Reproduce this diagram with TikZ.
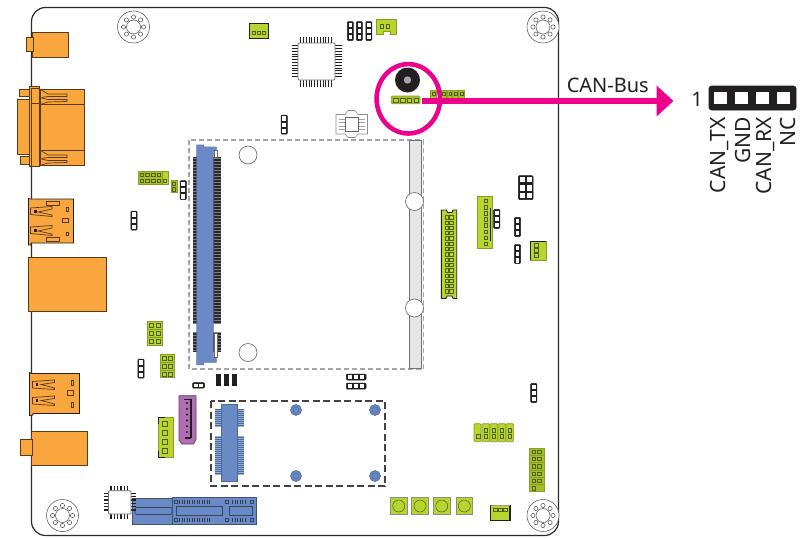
\documentclass[tikz,border=0pt]{standalone}
\usepackage{fontspec}
\setmainfont{Noto Sans}
\usetikzlibrary{arrows.meta}

\definecolor{boardline}{HTML}{2B2B2B}
\definecolor{ioorange}{HTML}{F9A63F}
\definecolor{slotblue}{HTML}{6A8AC6}
\definecolor{pinblue}{HTML}{4A6A9C}
\definecolor{hdrlime}{HTML}{B6D52E}
\definecolor{padolive}{HTML}{A6BE2C}
\definecolor{blockdark}{HTML}{231F20}
\definecolor{markpink}{HTML}{EC008C}
\definecolor{satapurple}{HTML}{B06FB2}
\definecolor{railgray}{HTML}{E4E5E6}

\begin{document}
\begin{tikzpicture}[
			x = 1pt,
			y = -1pt,
			> = stealth,
			semithick]
			\tikzstyle{every node}=[inner sep = 0pt, text = blockdark]
			\tikzstyle{orangepart}=[draw = black!65!ioorange, line width = 0.8pt, fill = ioorange]
			\tikzstyle{orangeline}=[draw = black!65!ioorange, line width = 0.7pt]
			\tikzstyle{limepart}=[draw = black!25!hdrlime, line width = 0.7pt, fill = hdrlime]
			\tikzstyle{limeedge}=[draw = blockdark, line width = 0.9pt, fill = hdrlime]
			\tikzstyle{padbox}=[draw = black!55!hdrlime, line width = 0.6pt]
			\tikzstyle{blockstrip}=[draw = blockdark, fill = blockdark, line width = 0.5pt, rounded corners = 1pt]
			\tikzstyle{holering}=[draw = black!70, line width = 0.5pt, fill = white]
			\tikzstyle{chip}=[draw = black!55, line width = 0.8pt, fill = white, rounded corners = 1pt]
			\tikzstyle{standoff}=[draw = pinblue, line width = 0.6pt, fill = slotblue]

			\useasboundingbox (0,0) rectangle (800,538);

			% board
			\draw[boardline, line width = 1.2pt, rounded corners = 14pt, fill = white]
				(31.5,7.5) rectangle (558.5,535.5);

			% mounting holes
			\foreach \cx/\cy in {133.5/27, 543/27, 62.5/515.5, 543/515.5} {
				\draw[holering] (\cx,\cy) circle (16);
				\draw[holering] (\cx,\cy) circle (7);
				\foreach \a in {0,45,...,315}
					\draw[holering] ({\cx+10*cos(\a)},{\cy+10*sin(\a)}) circle (2.1);
			}

			% rear io
			\draw[orangepart] (32.5,32) rectangle (68,57);
			\draw[orangepart] (26,37.5) rectangle (33.5,51.5);

			\draw[orangepart] (19.5,89) rectangle (29,96.5);
			\draw[orangepart] (20.5,156) rectangle (29,164);
			\draw[orangepart] (17.5,99) rectangle (29,154);
			\draw[orangepart] (40,89) rectangle (84,165.5);
			\draw[orangeline] (40,104.5) -- (84,104.5) (40,150) -- (84,150);
			\draw[orangepart] (29.5,86.5) rectangle (39.5,166.5);
			\draw[orangeline] (31.5,88) rectangle (39.5,103.5);
			\draw[orangeline] (31.5,103.5) -- (31.5,166);
			\foreach \sy in {89,150} {
				\draw[orangeline] (41.5,\sy+1) -- (48,\sy+5) -- (67,\sy+5) -- (67,\sy+7.5) -- (48,\sy+7.5) -- (41.5,\sy+8.5);
				\draw[orangeline] (41.5,\sy+9) -- (48,\sy+10.5) -- (67,\sy+10.5) -- (67,\sy+12.5) -- (48,\sy+13) -- (41.5,\sy+15);
			}

			\draw[orangepart, draw = blockdark] (28.5,198.5) -- (30,199) -- (73.5,199) -- (73.5,243) -- (31,243) -- (31,245) -- (28.5,245) -- cycle;
			\foreach \sy in {208,227} {
				\draw[orangeline] (30.5,\sy) -- (52,\sy-1.5) -- (52,\sy+1) -- (38,\sy+4) -- (52,\sy+7) -- (52,\sy+8.5) -- (30.5,\sy+6.5) -- cycle;
				\fill[blockdark] (34,\sy+1.5) rectangle ++(2.5,3);
			}
			\draw[orangeline] (46,201) rectangle (59,205);
			\draw[orangeline] (46,237) rectangle (59,241);
			\draw[orangeline] (66,207) rectangle (68.5,211);
			\draw[orangeline] (62.5,218) rectangle (68.5,222.5);
			\draw[orangeline] (66,232) rectangle (68.5,235.5);

			\draw[orangepart] (28.5,257) rectangle (106,311);

			\draw[orangepart, draw = blockdark] (29.5,372.5) -- (31,373.5) -- (79.5,373.5) -- (79.5,413.5) -- (33,413.5) -- (33,415) -- (29.5,415.5) -- cycle;
			\foreach \sy in {381.5,397.5} {
				\draw[orangeline] (32.5,\sy) -- (54.5,\sy-1.5) -- (54.5,\sy+1) -- (41,\sy+3) -- (54.5,\sy+6.5) -- (54.5,\sy+8) -- (32.5,\sy+6.5) -- cycle;
				\fill[blockdark] (36,\sy+1.5) rectangle ++(2.3,2.5);
			}
			\draw[orangeline] (71,380.5) rectangle (73.5,385);
			\draw[orangeline] (67.5,390) rectangle (73.5,395);
			\draw[orangeline] (71,402.5) rectangle (73.5,407);

			\draw[orangepart] (31.5,431) rectangle (87,465.5);
			\draw[orangepart] (20,439) rectangle (32.5,455.5);

			% memory socket
			\draw[black!35, line width = 1.1pt, dash pattern = on 5pt off 3pt] (189,140) rectangle (423.5,369);
			\draw[black!55, line width = 0.8pt, fill = railgray] (409,140.5) rectangle (421.5,368.5);
			\draw[holering, draw = black!55, line width = 0.7pt] (414.5,201.5) circle (9);
			\draw[holering, draw = black!55, line width = 0.7pt] (414.5,308) circle (9);
			\draw[holering, draw = black!55, line width = 0.7pt] (248,155) circle (9);
			\draw[holering, draw = black!55, line width = 0.7pt] (248,352.5) circle (9);
			\foreach \sy/\ey in {157/323, 332/352} {
				\fill[blockdark!90!slotblue] (193,\sy) rectangle (197,\ey);
				\fill[blockdark!90!slotblue] (213,\sy) rectangle (220.5,\ey);
			}
			\foreach \ly in {158,161,...,350} {
				\draw[black!50, line width = 0.3pt] (193,\ly) -- (197,\ly) (214,\ly) -- (220.5,\ly);
			}
			\fill[white] (193,323.5) rectangle (221,331.5);
			\fill[slotblue!80!black] (196.3,144.5) -- (204,144.5) -- (204,146.5) -- (216.7,146.5) -- (216.7,150.5)
				-- (213.5,150.5) -- (213.5,357.5) -- (216.7,357.5) -- (216.7,362.5) -- (204,362.5) -- (204,365) -- (196.3,365) -- cycle;
			\fill[slotblue] (197,145) -- (203.5,145) -- (203.5,147) -- (216,147) -- (216,150) -- (213,150)
				-- (213,358) -- (216,358) -- (216,362) -- (203.5,362) -- (203.5,364.5) -- (197,364.5) -- cycle;
			\draw[black!60, fill = white, line width = 0.5pt] (213.8,150.5) rectangle (217,157);
			\draw[black!60, fill = white, line width = 0.5pt] (213.8,333) rectangle (217,357.5);

			% mini card slot
			\draw[blockdark!85, line width = 1.1pt, dash pattern = on 7pt off 3.5pt] (211,401) rectangle (385,486);
			\foreach \sx in {214.5,237} {
				\foreach \sy/\ey in {409/427, 436/475} {
					\fill[pinblue] (\sx,\sy) rectangle (\sx+6.7,\ey);
				}
			}
			\foreach \ly in {410,412,...,474} {
				\draw[slotblue!70!white, line width = 0.35pt] (214.5,\ly) -- (221,\ly) (237,\ly) -- (243.7,\ly);
			}
			\fill[white] (214,428) rectangle (245,435.5);
			\draw[pinblue, line width = 0.7pt, fill = slotblue] (221,404.5) rectangle (237,481.5);
			\foreach \cx/\cy in {296/410, 375/410, 296/476, 375/476} {
				\draw[standoff] (\cx,\cy) circle (5.5);
				\draw[pinblue, line width = 0.5pt] (\cx,\cy) circle (3);
			}

			% expansion slot
			\draw[black!40!slotblue, line width = 0.6pt, fill = slotblue] (132.5,498) rectangle (173,524);
			\draw[black!50!slotblue, line width = 0.6pt, rounded corners = 1pt] (135,507.5) rectangle (172,514.5);
			\draw[black!40!slotblue, line width = 0.6pt, fill = slotblue] (172.5,497.5) rectangle (256.5,524);
			\draw[black!50!slotblue, line width = 0.7pt] (176.5,506) rectangle (222,515.5);
			\draw[black!50!slotblue, line width = 0.7pt] (229,506) rectangle (252,515.5);
			\foreach \ry in {500,518} {
				\foreach \px in {179,181.5,...,209}
					\fill[blockdark!75!slotblue] (\px,\ry) rectangle ++(1.4,4);
				\foreach \px in {232,234.5,...,246}
					\fill[blockdark!75!slotblue] (\px,\ry) rectangle ++(1.4,4);
				\draw[black!50!slotblue, line width = 0.5pt] (174.5,\ry) rectangle ++(3,3.5);
				\draw[black!50!slotblue, line width = 0.5pt] (225,\ry) rectangle ++(3,3.5);
				\draw[black!50!slotblue, line width = 0.5pt] (250.5,\ry) rectangle ++(3,3.5);
			}

			% chips
			\foreach \k in {0,1,...,11} {
				\draw[blockdark, line width = 0.6pt] (300.5+2.8*\k,36.5) -- ++(0,6.5) (300.5+2.8*\k,80) -- ++(0,6.5)
					(292,45.5+2.8*\k) -- ++(6.5,0) (335,45.5+2.8*\k) -- ++(6.5,0);
			}
			\draw[chip] (298,43) rectangle (335,80);
			\foreach \k in {0,1,...,5} {
				\draw[blockdark, line width = 1.3pt] (111+3.3*\k,486) -- ++(0,5) (111+3.3*\k,514) -- ++(0,5)
					(104,493.5+3.3*\k) -- ++(5,0) (131,493.5+3.3*\k) -- ++(4.5,0);
			}
			\draw[chip] (108.5,490.7) rectangle (131,514);

			% regulator
			\draw[black!45, line width = 0.6pt, fill = white] (336,114.5) -- (345,114.5) -- (348,110.5) -- (355,110.5) -- (358,114.5)
				-- (367.5,114.5) -- (367.5,134) -- (358,134) -- (355,137.5) -- (348,137.5) -- (345,134) -- (336,134) -- cycle;
			\foreach \ly in {119,122.5,126,129.5} {
				\draw[black!35, line width = 0.4pt] (339,\ly) -- (345,\ly) (358,\ly) -- (364.5,\ly);
			}
			\draw[black!60, line width = 0.7pt, fill = white] (345,117) rectangle (358,131);

			% black headers
			\foreach \sx/\sy in {284.2/115, 183.2/180.5, 134/211, 141/359, 496.7/209.3, 517.4/217.3, 517.4/244.5, 533.8/383.3} {
				\draw[blockstrip] (\sx-3.1,\sy) rectangle (\sx+3.1,\sy+19.2);
				\foreach \k in {0,1,2}
					\fill[white] (\sx-1.9,\sy+1.4+6.1*\k) rectangle ++(3.8,4.4);
			}
			\foreach \sx in {350.3,359.3,368.8} {
				\draw[blockstrip] (\sx-3,21.5) rectangle (\sx+3,40.5);
				\foreach \k in {0,1,2}
					\fill[white] (\sx-1.7,22.9+6*\k) rectangle ++(3.4,4.4);
			}
			\foreach \sy in {374,383} {
				\draw[blockstrip] (346.3,\sy) rectangle (366,\sy+6);
				\foreach \k in {0,1,2}
					\fill[white] (347.8+6.1*\k,\sy+1.3) rectangle ++(4.4,3.4);
			}
			\draw[blockstrip] (192.5,382.7) rectangle (204.5,388);
			\fill[white] (194,384) rectangle ++(4,2.7);
			\fill[white] (199.2,384) rectangle ++(4,2.7);
			\draw[blockstrip] (518.3,175.7) rectangle (533,199.7);
			\foreach \px in {519.8,526.5} {
				\foreach \py in {177.2,185.3,192.9}
					\fill[white] (\px,\py) rectangle ++(5,5.2);
			}
			\fill[blockdark] (216,373.7) rectangle (221,386);
			\fill[blockdark] (224,373.7) rectangle (229,386);
			\fill[blockdark] (232,373.7) rectangle (237,386);

			% lime headers
			\draw[limepart, fill = padolive] (138.5,171) rectangle (162,184.5);
			\draw[limepart] (162,171) rectangle (168,184.5);
			\foreach \px in {141.5,147.3,153.1,158.9} {
				\draw[padbox] (\px-1.7,172.9) rectangle ++(3.4,3.4);
				\draw[padbox] (\px-1.7,179.3) rectangle ++(3.4,3.4);
			}
			\draw[padbox] (163.3,179.3) rectangle ++(3.4,3.4);
			\draw[limepart, fill = padolive] (171,180.5) rectangle (177,192.5);
			\draw[padbox] (172.3,182) rectangle ++(3.4,3.4);
			\draw[padbox] (172.3,187.5) rectangle ++(3.4,3.4);

			\foreach \ox/\oy in {147.5/321.7, 160/354.3} {
				\draw[limepart] (\ox,\oy) rectangle (\ox+14.5,\oy+7.8);
				\draw[limepart] (\ox,\oy+7.8) rectangle (\ox+14.5,\oy+15.6);
				\draw[limepart] (\ox,\oy+15.6) rectangle (\ox+14.5,\oy+23.4);
				\foreach \k in {0,1,2} {
					\draw[padbox] (\ox+2,\oy+2+7.8*\k) rectangle ++(4,4);
					\draw[padbox] (\ox+8.5,\oy+2+7.8*\k) rectangle ++(4,4);
				}
			}

			% four pin header and its buzzer
			\fill[blockdark] (407.5,80) circle (12.5);
			\fill[black!35] (407.5,80) circle (3.7);
			\draw[limepart, fill = padolive, rounded corners = 1pt] (391.3,96) rectangle (420,103.7);
			\foreach \px in {393.5,400.4,407.2,414} {
				\draw[padbox, fill = hdrlime] (\px,97.9) rectangle ++(4.4,3.9);
			}

			\foreach \px in {430.5,441,447.2,452.8,458.6} {
				\draw[limepart, fill = padolive] (\px,90) rectangle ++(5.8,8.3);
				\draw[padbox] (\px+1.6,92) rectangle ++(2.7,3.2);
			}

			\draw[limeedge] (249,23.5) rectangle (268,38.7);
			\foreach \px in {252.2,257,262} {
				\draw[padbox] (\px,31.5) rectangle ++(3.4,3.2);
			}
			\draw[limepart] (376.5,19.5) -- (396,19.5) -- (396,34.5) -- (390,34.5) -- (390,31) -- (383,31) -- (383,34.5) -- (376.5,34.5) -- cycle;
			\draw[padbox] (380,24.7) rectangle ++(3.2,3.2);
			\draw[padbox] (386.2,24.7) rectangle ++(3.2,3.2);

			\draw[limeedge] (441.3,210) -- (446.5,210) -- (447.5,212.5) -- (452,212.5) -- (453,210) -- (456.7,210) -- (456.7,298.5) -- (453,298.5) -- (452,296) -- (447,296) -- (446,298.5) -- (441.3,298.5) -- cycle;
			\foreach \py in {215.5,220.8,...,292} {
				\draw[padbox, line width = 0.5pt] (445,\py) rectangle ++(3.3,3.3);
				\draw[padbox, line width = 0.5pt] (449.5,\py) rectangle ++(3.3,3.3);
			}

			\draw[limepart] (477,196.3) rectangle (492,248.7);
			\foreach \py in {199.3,205.4,...,243} {
				\draw[padbox] (484,\py) rectangle ++(3.4,3.4);
			}
			\draw[blockdark, line width = 0.9pt] (490.7,208) -- (490.7,241);

			\draw[limepart] (530.7,241) rectangle (546.3,260.3);
			\draw[blockdark, line width = 0.9pt] (530.7,260.3) -- (530.7,241) -- (546.3,241);
			\foreach \py in {245.7,250.7,255.7} {
				\draw[padbox] (534,\py-2) rectangle ++(3.8,3.8);
			}

			\draw[limepart] (158,417.3) rectangle (173.5,457.3);
			\draw[blockdark, line width = 1.1pt] (158.5,424) -- (158.5,417.3) -- (165,417.3);
			\draw[blockdark, line width = 1.1pt] (158.5,450.5) -- (158.5,457.3) -- (165,457.3);
			\foreach \py in {424,432.7,441.7,450.7} {
				\draw[padbox] (162.5,\py-2.5) rectangle ++(5,5);
			}

			\draw[limepart, rounded corners = 1pt] (474,423.7) rectangle (481,441.7);
			\draw[padbox] (476,434.5) rectangle ++(3.8,3.8);
			\foreach \px in {482,490,498,506} {
				\draw[limepart, rounded corners = 1pt] (\px,423.7) rectangle ++(7.6,18);
				\draw[padbox] (\px+1.9,428) rectangle ++(3.8,3.8);
				\draw[padbox] (\px+1.9,434.5) rectangle ++(3.8,3.8);
			}

			\foreach \k in {0,1,...,5} {
				\draw[limepart, fill = hdrlime!90!black] (529.3,448+7.3*\k) rectangle ++(15,7.3);
				\draw[padbox] (532.2,449.9+7.3*\k) rectangle ++(3.4,3.4);
			}
			\foreach \k in {0,1,...,4} {
				\draw[padbox] (537.5,449.9+7.3*\k) rectangle ++(3.4,3.4);
			}

			\foreach \cx in {398.7,420,441.7,464.3} {
				\draw[limepart, draw = black!45] (\cx-8.4,497.3) rectangle (\cx+8.4,514.7);
				\draw[padbox, line width = 0.5pt] (\cx,506) circle (6);
			}

			\draw[limepart] (490.7,505) rectangle (510,520.7);
			\draw[blockdark, line width = 1.1pt] (490.7,505) -- (490.7,520.7) -- (510,520.7) -- (510,505);
			\draw[black!40, line width = 0.6pt] (490.7,505) -- (510,505);
			\foreach \px in {493.7,498.7,503.7} {
				\draw[padbox] (\px,508) rectangle ++(3.4,3.6);
			}

			% sata socket
			\draw[black!45!satapurple, line width = 0.7pt, fill = satapurple] (179,395.7) -- (196,395.7) -- (196,439.5) -- (193.5,444) -- (182,444) -- (179,440) -- cycle;
			\draw[blockdark, line width = 1.1pt] (184,399.5) -- (191,399.5) -- (191,438);
			\draw[blockdark, line width = 1.1pt] (191,438) -- (185,438);
			\foreach \py in {403,408.8,...,437} {
				\fill[blockdark] (187,\py) circle (1.2);
			}

			% callout
			\draw[markpink, line width = 4.6pt] (408.3,98.8) ellipse [x radius = 31.7, y radius = 34.7];
			\coordinate (canstart) at (422,101);
			\coordinate (cantip) at (673.5,101);
			\draw[-{Triangle[length=17pt,width=30pt]}, markpink, line width = 5.5pt] (canstart) -- (cantip);
			\node[font = \fontsize{20}{24}\selectfont, anchor = base west] (canname) at (566.5,92) {CAN-Bus};

			% pinout
			\node[draw = blockdark, fill = blockdark, rounded corners = 2.5pt, minimum width = 87pt, minimum height = 24pt] (canhdr) at (752.5,98) {};
			\foreach \px in {720.7,741.5,762.3,783.3} {
				\fill[white] (\px-6.3,92.2) rectangle (\px+6.3,104.2);
			}
			\node[font = \fontsize{20}{24}\selectfont, anchor = base] (pinone) at (697,106.5) {1};
			\node[font = \fontsize{21}{24}\selectfont, rotate = 90, anchor = base east] (cantx) at (725,117) {CAN\_TX};
			\node[font = \fontsize{21}{24}\selectfont, rotate = 90, anchor = base east] (gnd) at (750,117) {GND};
			\node[font = \fontsize{21}{24}\selectfont, rotate = 90, anchor = base east] (canrx) at (771,117) {CAN\_RX};
			\node[font = \fontsize{21}{24}\selectfont, rotate = 90, anchor = base east] (nc) at (795,117) {NC};
		\end{tikzpicture}
\end{document}
